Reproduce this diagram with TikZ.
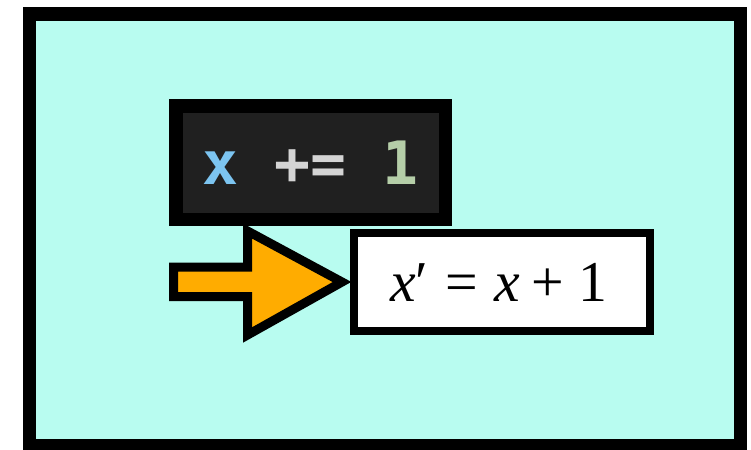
\documentclass[tikz,border=0pt]{standalone}
\usepackage{fontspec}
\usepackage{tikz}
\usepackage{xcolor}
\usetikzlibrary{positioning}
\newfontfamily\codefont{DejaVu Sans Mono}
\newfontfamily\eqfont{Liberation Serif}
\definecolor{paneCyan}{RGB}{184,252,240}
\definecolor{codeBg}{RGB}{32,32,32}
\definecolor{codeBlue}{RGB}{124,196,240}
\definecolor{codeGray}{RGB}{212,212,212}
\definecolor{codeGreen}{RGB}{181,206,168}
\definecolor{arrowOrange}{RGB}{255,172,0}

\begin{document}
\begin{tikzpicture}[
  x=1bp, y=-1bp,
  pane/.style={draw=black,fill=paneCyan,line width=13.5bp},
  codebox/.style={rectangle,draw=black,fill=codeBg,line width=13.5bp,
    minimum width=269.5bp,minimum height=113.5bp,inner sep=0pt,
    font=\codefont\bfseries\fontsize{60}{72}\selectfont},
  eqbox/.style={rectangle,draw=black,fill=white,line width=8bp,
    minimum width=295.5bp,minimum height=98bp,inner sep=0pt,
    font=\eqfont\fontsize{58}{68}\selectfont},
  bigarrow/.style={draw=black,fill=arrowOrange,line width=9bp,line join=miter}
]
  \useasboundingbox (0,0) rectangle (751,450);
  \draw[pane] (29.5,14) rectangle (740.5,446);

  \node[codebox] (code) at (310.75,162.75)
    {\textcolor{codeBlue}{x} \textcolor{codeGray}{+=} \textcolor{codeGreen}{1}};
  \node[eqbox] (eq) at (501.75,282)
    {\hspace{-6bp}\textit{x}′\hspace{17bp}=\hspace{16bp}\textit{x}\hspace{12bp}+\hspace{14bp}1\hspace{2bp}};

  % push arrow into the equation box
  \coordinate (tail) at (173.5,282);
  \coordinate (tip) at ([xshift=-8bp]eq.west);
  \draw[bigarrow] (tail) ++(0,-14.75) -- ++(74,0) -- ++(0,-36.25)
    -- (tip) -- (247.5,335) -- ++(0,-38.25) -- ++(-74,0) -- cycle;
\end{tikzpicture}
\end{document}
